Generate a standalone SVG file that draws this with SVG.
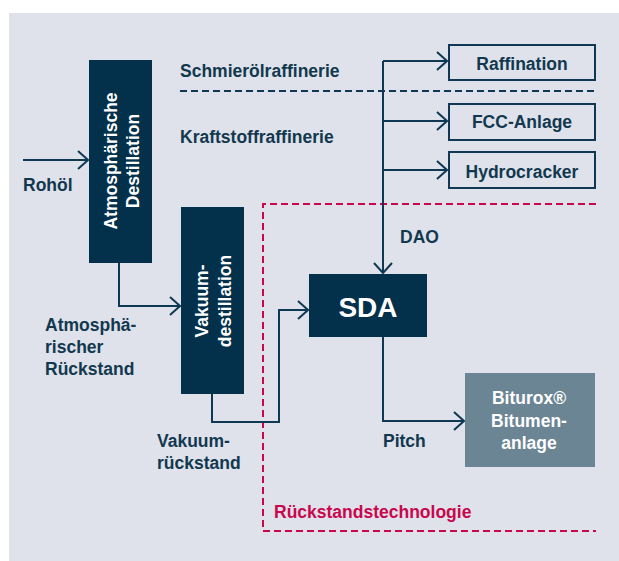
<svg xmlns="http://www.w3.org/2000/svg" width="619" height="561" viewBox="0 0 619 561">
<defs>
<style>
.bg{fill:#dfe2ea}
.dark{fill:#03304a}
.outl{fill:none;stroke:#0e3853;stroke-width:2}
.lbl{font-family:"Liberation Sans",Arial,sans-serif;font-weight:bold;font-size:17.5px;fill:#12384f}
.wt{font-family:"Liberation Sans",Arial,sans-serif;font-weight:bold;font-size:17.5px;fill:#ffffff}
.red{font-family:"Liberation Sans",Arial,sans-serif;font-weight:bold;font-size:17.5px;fill:#c8074f}
.ln{fill:none;stroke:#0e3853;stroke-width:2}
.dashN{fill:none;stroke:#0e3853;stroke-width:2;stroke-dasharray:7 4}
.dashR{fill:none;stroke:#c8074f;stroke-width:2;stroke-dasharray:7 4}
</style>
<marker id="arr" viewBox="0 0 12 20" refX="11" refY="10" markerWidth="12" markerHeight="20" markerUnits="userSpaceOnUse" orient="auto">
<path d="M1,1 L11,10 L1,19" fill="none" stroke="#0e3853" stroke-width="2"/>
</marker>
</defs>
<rect class="bg" x="9" y="13" width="610" height="548"/>

<g id="zones">
<path class="dashN" d="M180,91 H596"/>
<path class="dashR" d="M596,204 H263 V531 H596"/>
<text class="lbl" x="180" y="77">Schmierölraffinerie</text>
<text class="lbl" x="180" y="143">Kraftstoffraffinerie</text>
<text class="red" x="274" y="518">Rückstandstechnologie</text>
</g>

<g id="connectors">
<path class="ln" d="M23,160 H88" marker-end="url(#arr)"/>
<path class="ln" d="M119,263 V306 H180" marker-end="url(#arr)"/>
<path class="ln" d="M212,394 V422 H279 V310 H308" marker-end="url(#arr)"/>
<path class="ln" d="M383,61 V273" marker-end="url(#arr)"/>
<path class="ln" d="M383,61 H447" marker-end="url(#arr)"/>
<path class="ln" d="M383,121 H447" marker-end="url(#arr)"/>
<path class="ln" d="M383,170 H447" marker-end="url(#arr)"/>
<path class="ln" d="M383,337 V421 H464" marker-end="url(#arr)"/>
<text class="lbl" x="23" y="191">Rohöl</text>
<text class="lbl" x="45" y="331">Atmosphä-</text>
<text class="lbl" x="45" y="353">rischer</text>
<text class="lbl" x="45" y="375">Rückstand</text>
<text class="lbl" x="157" y="447">Vakuum-</text>
<text class="lbl" x="157" y="469">rückstand</text>
<text class="lbl" x="400" y="243">DAO</text>
<text class="lbl" x="383" y="447">Pitch</text>
</g>

<g id="atm">
<rect class="dark" x="89" y="60" width="63" height="203"/>
<g transform="translate(117,161) rotate(-90)">
<text class="wt" x="0" y="0" text-anchor="middle">Atmosphärische</text>
<text class="wt" x="0" y="22" text-anchor="middle">Destillation</text>
</g>
</g>

<g id="vak">
<rect class="dark" x="181" y="207" width="63" height="187"/>
<g transform="translate(208,301) rotate(-90)">
<text class="wt" x="0" y="0" text-anchor="middle">Vakuum-</text>
<text class="wt" x="0" y="23" text-anchor="middle">destillation</text>
</g>
</g>

<g id="sda">
<rect class="dark" x="309" y="274" width="118" height="63"/>
<text class="wt" x="368" y="317" text-anchor="middle" style="font-size:28px">SDA</text>
</g>

<g id="raff">
<rect class="outl" x="449" y="45" width="146" height="35"/>
<text class="lbl" x="522" y="70" text-anchor="middle">Raffination</text>
</g>

<g id="fcc">
<rect class="outl" x="449" y="104" width="146" height="36"/>
<text class="lbl" x="522" y="128" text-anchor="middle">FCC-Anlage</text>
</g>

<g id="hydro">
<rect class="outl" x="449" y="152" width="146" height="36"/>
<text class="lbl" x="522" y="178" text-anchor="middle">Hydrocracker</text>
</g>

<g id="biturox">
<rect x="465" y="373" width="130" height="94" fill="#6b8595"/>
<text class="wt" x="529" y="404" text-anchor="middle">Biturox®</text>
<text class="wt" x="529" y="427" text-anchor="middle">Bitumen-</text>
<text class="wt" x="529" y="449" text-anchor="middle">anlage</text>
</g>
</svg>
